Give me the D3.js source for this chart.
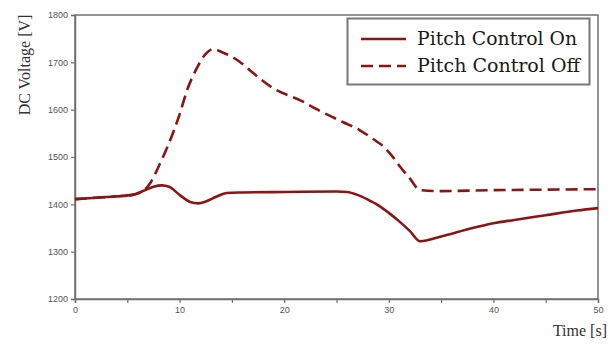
<!DOCTYPE html>
<html>
<head>
<meta charset="utf-8">
<script src="https://cdn.jsdelivr.net/npm/d3@7/dist/d3.min.js"></script>
<style>
  html, body { margin: 0; padding: 0; background: #fff; }
  svg { display: block; }
</style>
</head>
<body>
<svg id="chart" width="611" height="345"></svg>
<script>
// DC link voltage response, with and without pitch control
const timeOn = [0, 2, 4, 5.5, 6.5, 7.5, 8.3, 9, 10, 11, 11.8, 12.5, 13.5, 14.5, 16, 20, 25, 26, 27, 28, 29, 30, 31, 32, 33, 35, 38, 40, 42, 45, 48, 50];
const voltOn = [1411, 1414, 1417, 1420, 1428, 1437, 1440, 1437, 1420, 1405, 1402, 1406, 1416, 1424, 1425, 1426, 1427, 1426, 1420, 1410, 1398, 1382, 1364, 1344, 1322, 1332, 1350, 1360, 1367, 1377, 1387, 1392];

const timeOff = [0, 2, 4, 5.5, 6.5, 7.2, 8, 9, 10, 10.7, 11.7, 12.5, 13.2, 14, 15.5, 17, 18.9, 21.8, 23, 25.6, 27.2, 28.5, 29.5, 30.5, 31.1, 32, 33, 35, 40, 45, 50];
const voltOff = [1411, 1414, 1417, 1420, 1428, 1445, 1480, 1530, 1590, 1640, 1690, 1718, 1728, 1722, 1705, 1678, 1646, 1617, 1602, 1574, 1557, 1538, 1522, 1497, 1479, 1455, 1430, 1428, 1430, 1431, 1432];

const xTicks = [0, 10, 20, 30, 40, 50];
const xMinorTicks = [5, 15, 25, 35, 45];
const yTicks = [1200, 1300, 1400, 1500, 1600, 1700, 1800];
const seriesNames = ["Pitch Control On", "Pitch Control Off"];

const lineColor = "#8b1414";
const frameColor = "#707070";
const tickText = "#555";
const dashPattern = "12,6";

const svg = d3.select("#chart");
const m = { left: 75, right: 13, top: 15, bottom: 46 };
const W = 611, H = 345;

const x = d3.scaleLinear().domain([0, 50]).range([m.left, W - m.right]);
const y = d3.scaleLinear().domain([1200, 1800]).range([H - m.bottom, m.top]);

// plot frame
svg.append("rect")
  .attr("x", x(0)).attr("y", y(1800))
  .attr("width", x(50) - x(0)).attr("height", y(1200) - y(1800))
  .attr("fill", "none").attr("stroke", frameColor).attr("stroke-width", 1.5);

// x axis
svg.append("g")
  .attr("transform", `translate(0,${y(1200)})`)
  .call(d3.axisBottom(x).tickValues(xTicks).tickSize(4).tickPadding(4).tickFormat(d3.format("d")));
svg.append("g")
  .attr("transform", `translate(0,${y(1200)})`)
  .call(d3.axisBottom(x).tickValues(xMinorTicks).tickSize(4).tickFormat(""))
  .call(g => g.select(".domain").remove());

// y axis
svg.append("g")
  .attr("transform", `translate(${x(0)},0)`)
  .call(d3.axisLeft(y).tickValues(yTicks).tickSize(4).tickPadding(3).tickFormat(d3.format("d")));

svg.selectAll(".domain").attr("stroke", frameColor).attr("stroke-width", 1.5);
svg.selectAll(".tick line").attr("stroke", frameColor).attr("stroke-width", 1.2);
svg.selectAll(".tick text")
  .attr("fill", tickText)
  .style("font-family", "'Liberation Sans', Arial, sans-serif")
  .style("font-size", "9px");

// curves
const line = d3.line().x(d => x(d[0])).y(d => y(d[1])).curve(d3.curveMonotoneX);
const onData = timeOn.map((t, i) => [t, voltOn[i]]);
const offData = timeOff.map((t, i) => [t, voltOff[i]]);

svg.append("path").datum(offData)
  .attr("d", line).attr("fill", "none")
  .attr("stroke", lineColor).attr("stroke-width", 2.6)
  .attr("stroke-dasharray", dashPattern);

svg.append("path").datum(onData)
  .attr("d", line).attr("fill", "none")
  .attr("stroke", lineColor).attr("stroke-width", 2.6);

// axis titles
const serif = "'Liberation Serif', 'DejaVu Serif', serif";
svg.append("text")
  .attr("transform", `translate(30,65) rotate(-90)`)
  .attr("text-anchor", "middle")
  .style("font-family", serif).style("font-size", "16px").attr("fill", "#333")
  .text("DC Voltage [V]");

svg.append("text")
  .attr("x", 607).attr("y", 336)
  .attr("text-anchor", "end")
  .style("font-family", serif).style("font-size", "16px").attr("fill", "#333")
  .text("Time [s]");

// legend
const lg = svg.append("g");
lg.append("rect")
  .attr("x", 347.5).attr("y", 18.5).attr("width", 242).attr("height", 66)
  .attr("fill", "#fff").attr("stroke", "#777").attr("stroke-width", 2);

const legendRows = [
  { name: seriesNames[0], dash: null, yy: 39, len: 160 },
  { name: seriesNames[1], dash: dashPattern, yy: 66, len: 163 }
];
legendRows.forEach(r => {
  lg.append("line")
    .attr("x1", 361).attr("x2", 406).attr("y1", r.yy).attr("y2", r.yy)
    .attr("stroke", lineColor).attr("stroke-width", 2.6)
    .attr("stroke-dasharray", r.dash);
  lg.append("text")
    .attr("x", 417).attr("y", r.yy + 6)
    .attr("textLength", r.len).attr("lengthAdjust", "spacingAndGlyphs")
    .style("font-family", "'DejaVu Serif', serif")
    .style("font-size", "18px").attr("fill", "#1a1a1a")
    .text(r.name);
});
</script>
</body>
</html>
